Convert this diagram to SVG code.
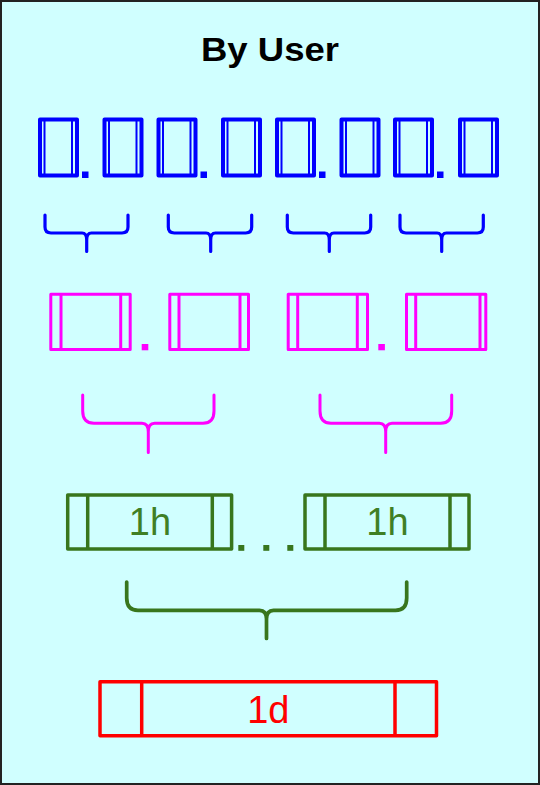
<svg xmlns="http://www.w3.org/2000/svg" width="540" height="785" viewBox="0 0 540 785">
<style>
.bb{fill:none;stroke:#0000FF;stroke-width:4;stroke-linejoin:round}
.bd{stroke:#0000FF;stroke-width:2}
.bf{fill:#0000FF}
.mb{fill:none;stroke:#FF00FF;stroke-width:3;stroke-linejoin:round}
.mf{fill:#FF00FF}
.gb{fill:none;stroke:#38761D;stroke-width:3.5;stroke-linejoin:round}
.gf{fill:#38761D}
.rb{fill:none;stroke:#FF0000;stroke-width:3.5;stroke-linejoin:round}
.br{fill:none;stroke-linecap:round;stroke-linejoin:round}
.lbl{font-family:"Liberation Sans",Arial,sans-serif;font-size:38px;text-anchor:middle}
</style>
<rect x="1" y="1" width="538" height="783" fill="#D0FFFF" stroke="#222" stroke-width="2"/>
<text x="270" y="61" font-family="Liberation Sans,Arial,sans-serif" font-weight="bold" font-size="33" text-anchor="middle" textLength="138" lengthAdjust="spacingAndGlyphs">By User</text>

<g id="blue-row">
<g id="b1"><rect class="bb" x="40" y="119.5" width="37" height="56"/><line class="bd" x1="44.5" y1="119.5" x2="44.5" y2="175.5"/><line class="bd" x1="72" y1="119.5" x2="72" y2="175.5"/></g>
<rect class="bf" x="82" y="171.5" width="6.5" height="6.5"/>
<g id="b2"><rect class="bb" x="104.5" y="119.5" width="37" height="56"/><line class="bd" x1="109" y1="119.5" x2="109" y2="175.5"/><line class="bd" x1="136.5" y1="119.5" x2="136.5" y2="175.5"/></g>
<g id="b3"><rect class="bb" x="158.5" y="119.5" width="37" height="56"/><line class="bd" x1="163" y1="119.5" x2="163" y2="175.5"/><line class="bd" x1="190.5" y1="119.5" x2="190.5" y2="175.5"/></g>
<rect class="bf" x="200.5" y="171.5" width="6.5" height="6.5"/>
<g id="b4"><rect class="bb" x="223" y="119.5" width="37" height="56"/><line class="bd" x1="227.5" y1="119.5" x2="227.5" y2="175.5"/><line class="bd" x1="255" y1="119.5" x2="255" y2="175.5"/></g>
<g id="b5"><rect class="bb" x="277" y="119.5" width="37" height="56"/><line class="bd" x1="281.5" y1="119.5" x2="281.5" y2="175.5"/><line class="bd" x1="309" y1="119.5" x2="309" y2="175.5"/></g>
<rect class="bf" x="319" y="171.5" width="6.5" height="6.5"/>
<g id="b6"><rect class="bb" x="341.5" y="119.5" width="37" height="56"/><line class="bd" x1="346" y1="119.5" x2="346" y2="175.5"/><line class="bd" x1="373.5" y1="119.5" x2="373.5" y2="175.5"/></g>
<g id="b7"><rect class="bb" x="395" y="119.5" width="37" height="56"/><line class="bd" x1="399.5" y1="119.5" x2="399.5" y2="175.5"/><line class="bd" x1="427" y1="119.5" x2="427" y2="175.5"/></g>
<rect class="bf" x="437" y="171.5" width="6.5" height="6.5"/>
<g id="b8"><rect class="bb" x="460" y="119.5" width="37" height="56"/><line class="bd" x1="464.5" y1="119.5" x2="464.5" y2="175.5"/><line class="bd" x1="492" y1="119.5" x2="492" y2="175.5"/></g>
</g>

<g id="magenta-row">
<g id="m1"><rect class="mb" x="50.8" y="294.2" width="79.4" height="55.3"/><line class="mb" x1="61" y1="294.2" x2="61" y2="349.5"/><line class="mb" x1="120.7" y1="294.2" x2="120.7" y2="349.5"/></g>
<rect class="mf" x="141.7" y="344" width="6.6" height="6.3"/>
<g id="m2"><rect class="mb" x="169.8" y="294.2" width="78.7" height="55.3"/><line class="mb" x1="179" y1="294.2" x2="179" y2="349.5"/><line class="mb" x1="240" y1="294.2" x2="240" y2="349.5"/></g>
<g id="m3"><rect class="mb" x="288.2" y="294.2" width="79.3" height="55.3"/><line class="mb" x1="297.7" y1="294.2" x2="297.7" y2="349.5"/><line class="mb" x1="357.3" y1="294.2" x2="357.3" y2="349.5"/></g>
<rect class="mf" x="378.3" y="344" width="6.6" height="6.3"/>
<g id="m4"><rect class="mb" x="406.5" y="294.2" width="79.3" height="55.3"/><line class="mb" x1="415.7" y1="294.2" x2="415.7" y2="349.5"/><line class="mb" x1="480" y1="294.2" x2="480" y2="349.5"/></g>
</g>

<g id="green-row">
<g id="g1"><rect class="gb" x="67.7" y="495" width="163.9" height="54"/><line class="gb" x1="87.7" y1="495" x2="87.7" y2="549"/><line class="gb" x1="212.3" y1="495" x2="212.3" y2="549"/><text class="lbl" x="150" y="535" fill="#3F7F25">1h</text></g>
<rect class="gf" x="238.3" y="545" width="6" height="5.8"/>
<rect class="gf" x="263.3" y="545" width="6" height="5.8"/>
<rect class="gf" x="287.3" y="545" width="6" height="5.8"/>
<g id="g2"><rect class="gb" x="305" y="495" width="164" height="54"/><line class="gb" x1="325" y1="495" x2="325" y2="549"/><line class="gb" x1="450" y1="495" x2="450" y2="549"/><text class="lbl" x="387.5" y="535" fill="#3F7F25">1h</text></g>
</g>

<g id="red-row">
<g id="r1"><rect class="rb" x="100" y="681.8" width="336.5" height="54"/><line class="rb" x1="141.7" y1="681.8" x2="141.7" y2="735.8"/><line class="rb" x1="395" y1="681.8" x2="395" y2="735.8"/><text class="lbl" x="268.3" y="722.7" fill="#FF0000">1d</text></g>
</g>

<g id="connectors">
<g stroke="#0000FF" stroke-width="3.2" class="br">
<path d="M45,215 V227 Q45,233 51,233 H82 Q86.7,233 86.7,240 V251.5 M128,215 V227 Q128,233 122,233 H91.4 Q86.7,233 86.7,240"/>
<path d="M168.3,215 V227 Q168.3,233 174.3,233 H206 Q210.7,233 210.7,240 V251.5 M251.7,215 V227 Q251.7,233 245.7,233 H215.4 Q210.7,233 210.7,240"/>
<path d="M287.3,215 V227 Q287.3,233 293.3,233 H324.6 Q329.3,233 329.3,240 V251.5 M370.7,215 V227 Q370.7,233 364.7,233 H334 Q329.3,233 329.3,240"/>
<path d="M400,215 V227 Q400,233 406,233 H437 Q441.7,233 441.7,240 V251.5 M483.3,215 V227 Q483.3,233 477.3,233 H446.4 Q441.7,233 441.7,240"/>
</g>
<g stroke="#FF00FF" stroke-width="3" class="br">
<path d="M82.7,395 V411 Q82.7,423.3 94,423.3 H142 Q148.3,423.3 148.3,432 V452.5 M214,395 V411 Q214,423.3 203,423.3 H154.6 Q148.3,423.3 148.3,432"/>
<path d="M320,395 V411 Q320,423.3 331,423.3 H379.4 Q385.7,423.3 385.7,432 V452.5 M451.7,395 V411 Q451.7,423.3 440.7,423.3 H392 Q385.7,423.3 385.7,432"/>
</g>
<g stroke="#38761D" stroke-width="3.7" class="br">
<path d="M126.7,582 V598 Q126.7,610.3 138,610.3 H259.5 Q266.5,610.3 266.5,619 V638.5 M406.7,582 V598 Q406.7,610.3 395.5,610.3 H273.5 Q266.5,610.3 266.5,619"/>
</g>
</g>
</svg>
